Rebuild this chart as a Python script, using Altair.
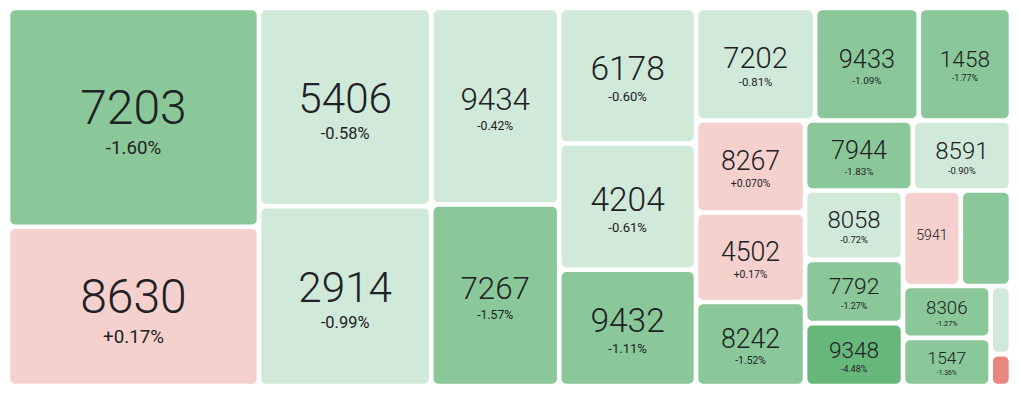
import altair as alt
import pandas as pd

# ---- data ----
names = ["7203", "8630", "5406", "2914", "9434", "7267", "6178", "4204", "9432",
         "7202", "9433", "1458", "8267", "4502", "8242", "7944", "8591", "8058",
         "7792", "9348", "5941", "", "8306", "1547", "", ""]
weights = [58140, 42330, 36137, 32812, 26624, 24596, 19627, 18292, 16847,
           14181, 12341, 10982, 10637, 10338, 9695, 7986, 7285, 7194,
           6567, 6517, 5841, 5075, 4815, 4468, 1472, 687]
changes = [-1.60, 0.17, -0.58, -0.99, -0.42, -1.57, -0.60, -0.61, -1.11,
           -0.81, -1.09, -1.77, 0.070, 0.17, -1.52, -1.83, -0.90, -0.72,
           -1.27, -4.48, 0.30, -1.50, -1.27, -1.36, -0.50, 1.50]
pct_labels = ["-1.60%", "+0.17%", "-0.58%", "-0.99%", "-0.42%", "-1.57%", "-0.60%",
              "-0.61%", "-1.11%", "-0.81%", "-1.09%", "-1.77%", "+0.070%", "+0.17%",
              "-1.52%", "-1.83%", "-0.90%", "-0.72%", "-1.27%", "-4.48%", "+0.30%",
              "-1.50%", "-1.27%", "-1.36%", "-0.50%", "+1.50%"]

color_breaks = [-3, -1, 0, 1]
color_range = ["#67b77b", "#8ac899", "#d1e9d9", "#f5d1ce", "#e8877f"]

# ---- layout (squarified treemap, as d3.treemapSquarify with ratio 1) ----
W, H = 1019.0, 394.0          # layout units
W_PX, H_PX = 1003, 378        # drawing size in pixels
SX, SY = W_PX / W, H_PX / H


def squarify(values, x0, y0, x1, y1, ratio=1.0):
    rects = [None] * len(values)
    n = len(values)
    i0 = i1 = 0
    value = float(sum(values))
    while i0 < n:
        dx, dy = x1 - x0, y1 - y0
        sum_v = values[i1]
        i1 += 1
        min_v = max_v = sum_v
        alpha = max(dy / dx, dx / dy) / (value * ratio)
        beta = sum_v * sum_v * alpha
        min_ratio = max(max_v / beta, beta / min_v)
        while i1 < n:
            nv = values[i1]
            s = sum_v + nv
            mn, mx = min(min_v, nv), max(max_v, nv)
            beta = s * s * alpha
            nr = max(mx / beta, beta / mn)
            if nr > min_ratio:
                break
            sum_v, min_v, max_v, min_ratio = s, mn, mx, nr
            i1 += 1
        if dx < dy:
            ny = y0 + dy * sum_v / value
            cx = x0
            for i in range(i0, i1):
                w = (x1 - x0) * values[i] / sum_v
                rects[i] = (cx, y0, cx + w, ny)
                cx += w
            y0 = ny
        else:
            nx = x0 + dx * sum_v / value
            cy = y0
            for i in range(i0, i1):
                h = (y1 - y0) * values[i] / sum_v
                rects[i] = (x0, cy, nx, cy + h)
                cy += h
            x0 = nx
        value -= sum_v
        i0 = i1
    return rects


rects = squarify(weights, 0.0, 0.0, W, H)
rows = []
for name, wt, chg, pl, (a, b, c, d) in zip(names, weights, changes, pct_labels, rects):
    wpx, hpx = (c - a) * SX, (d - b) * SY
    fs = min(0.245 * wpx, 0.36 * hpx, 48.0)
    cy = (b + d) / 2
    rows.append({
        "name": name if fs >= 13 else "",
        "pct": pl if (fs >= 16 and name) else "",
        "chg": chg, "weight": wt,
        "x0": a, "x1": c, "y0": b, "y1": d,
        "cx": (a + c) / 2,
        "ny": cy + 0.13 * fs / SY,
        "py": cy + 0.76 * fs / SY,
        "fs": fs, "pfs": 0.39 * fs,
    })
df = pd.DataFrame(rows)

xs = alt.Scale(domain=[0, W], nice=False, zero=False)
ys = alt.Scale(domain=[0, H], nice=False, zero=False, reverse=True)

base = alt.Chart(df)

tiles = base.mark_rect(cornerRadius=5, xOffset=2.3, x2Offset=-2.3,
                       yOffset=2.3, y2Offset=-2.3).encode(
    x=alt.X("x0:Q", scale=xs, axis=None),
    x2="x1:Q",
    y=alt.Y("y0:Q", scale=ys, axis=None),
    y2="y1:Q",
    color=alt.Color("chg:Q", scale=alt.Scale(type="threshold", domain=color_breaks,
                                             range=color_range), legend=None),
)

name_text = base.mark_text(align="center", baseline="alphabetic", font="Roboto",
                           fontWeight=300, color="#202124").encode(
    x=alt.X("cx:Q", scale=xs, axis=None),
    y=alt.Y("ny:Q", scale=ys, axis=None),
    text="name:N",
    size=alt.Size("fs:Q", scale=None),
)

pct_text = base.mark_text(align="center", baseline="alphabetic", font="Roboto",
                          color="#202124").encode(
    x=alt.X("cx:Q", scale=xs, axis=None),
    y=alt.Y("py:Q", scale=ys, axis=None),
    text="pct:N",
    size=alt.Size("pfs:Q", scale=None),
)

chart = alt.layer(tiles, name_text, pct_text).properties(
    width=W_PX, height=H_PX, padding=0
).configure_view(stroke=None)

chart.save("out.html", embed_options={"renderer": "svg", "actions": False})
